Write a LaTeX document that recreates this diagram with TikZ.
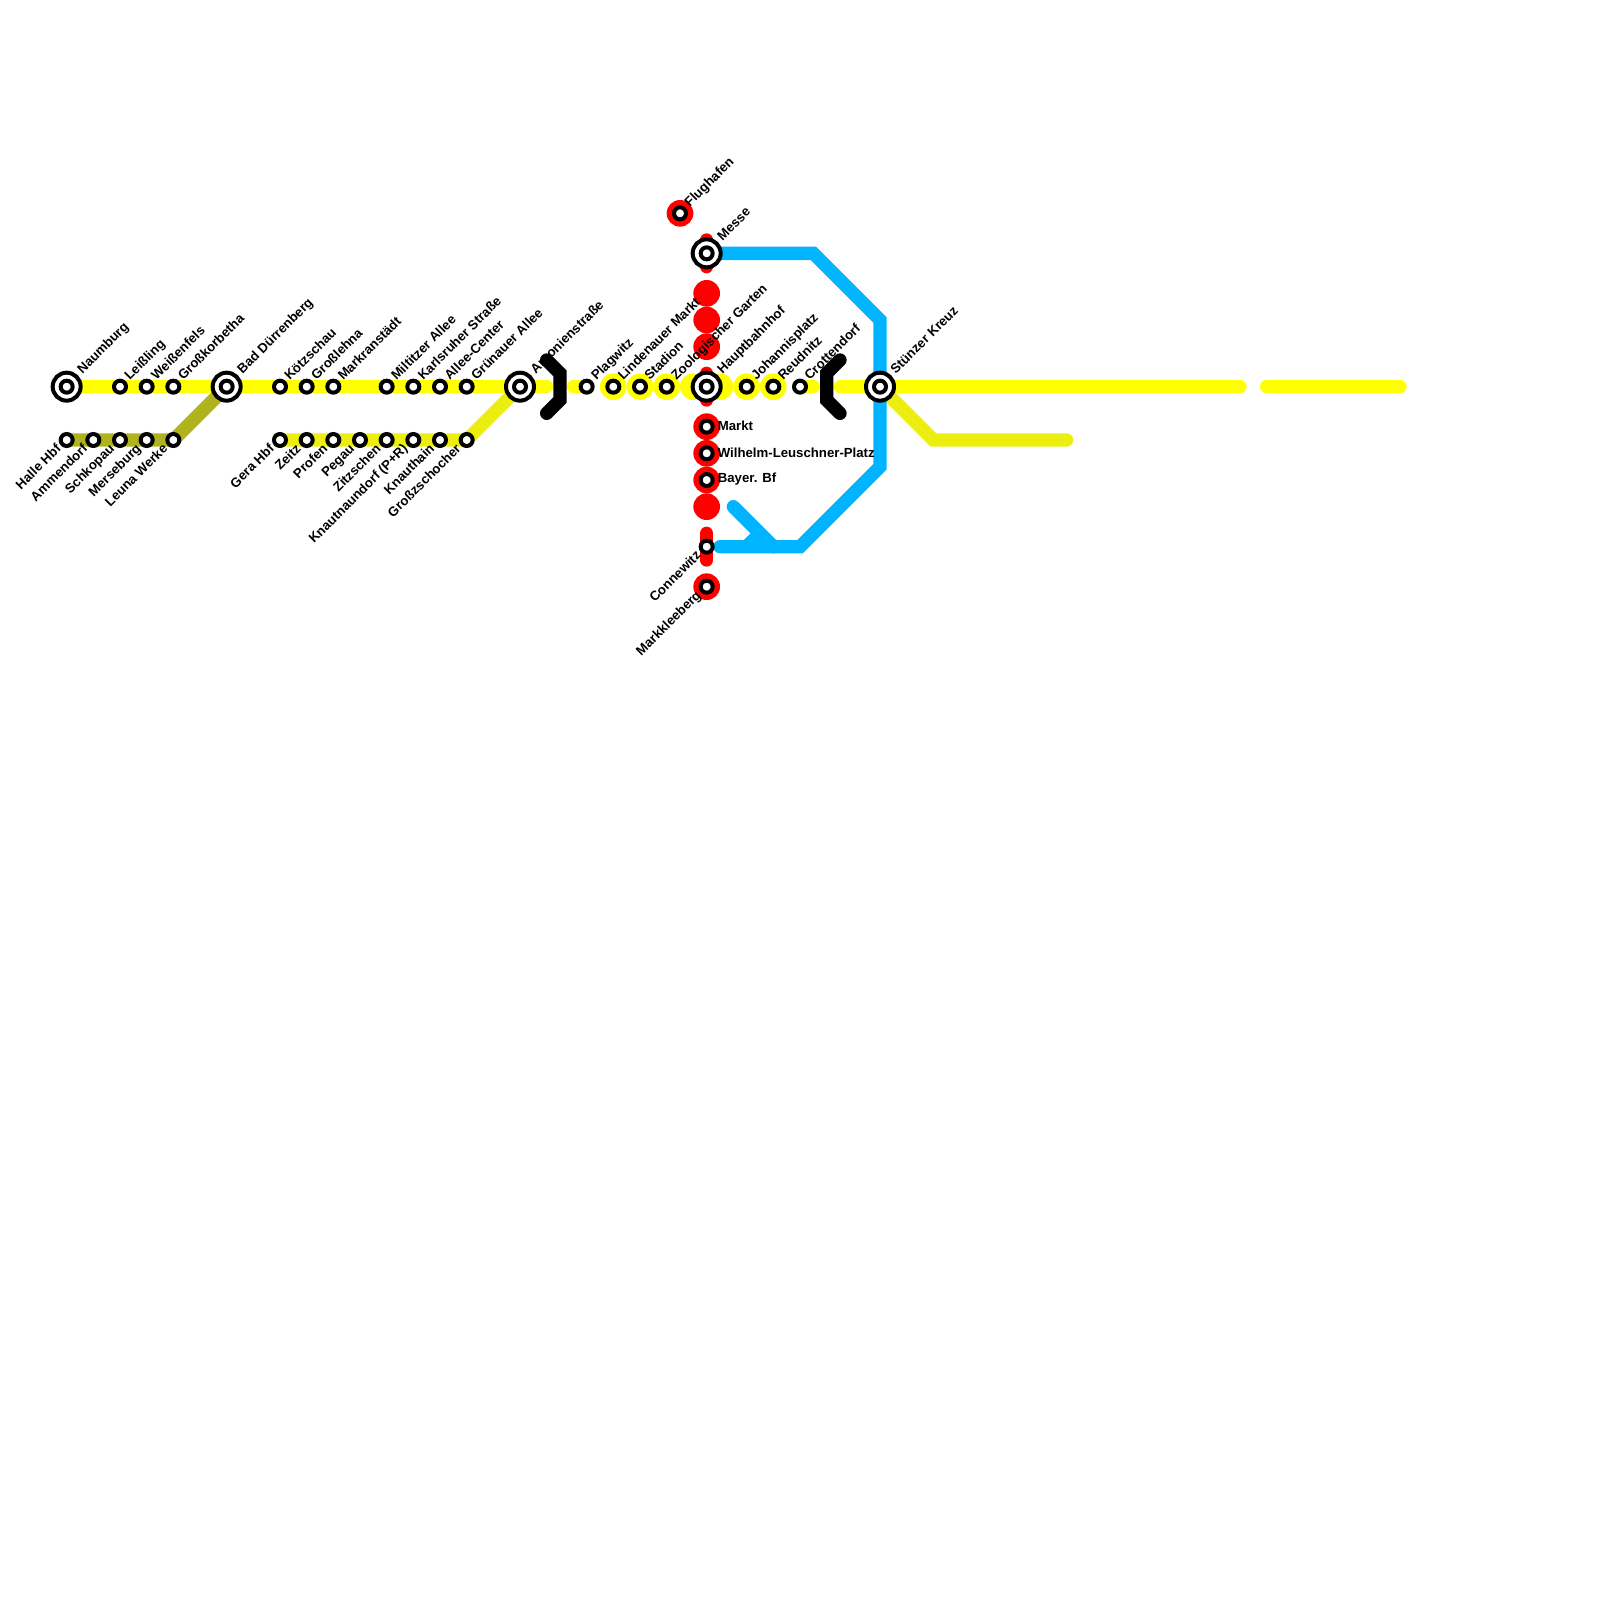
\documentclass[tikz,border=0pt]{standalone}
\usepackage{fontspec}
\setmainfont{Liberation Sans}
\usetikzlibrary{backgrounds}
\definecolor{lnyel}{HTML}{FFFF00}
\definecolor{lnlem}{HTML}{EBEE0E}
\definecolor{lnoli}{HTML}{AFB41E}
\definecolor{lnblu}{HTML}{00B4FF}
\definecolor{lnred}{HTML}{FF0000}

\begin{document}
\begin{tikzpicture}[
  x=13.3333pt, y=-13.3333pt, font=\fontsize{13.2}{14}\selectfont\bfseries,
  ln/.style   ={line width=13.3333pt,line cap=round},
  stn/.style  ={draw=black,fill=white,circle,inner sep=0,minimum size=12pt,line width=4pt},
  hub/.style  ={draw=black,fill=white,circle,inner sep=0,minimum size=28pt,line width=4pt},
  ydot/.style ={circle,fill=lnyel,inner sep=0,minimum size=26.6667pt},
  rdot/.style ={circle,fill=lnred,inner sep=0,minimum size=26.6667pt},
  lup/.style  ={xshift=9.8pt,yshift=5.7pt,rotate=45,anchor=base west,inner sep=0},
  lupb/.style ={xshift=15.8pt,yshift=12pt,rotate=45,anchor=base west,inner sep=0},
  ldn/.style  ={xshift=-4.9pt,yshift=-9.5pt,rotate=45,anchor=base east,inner sep=0},
  lrt/.style  ={anchor=west,inner sep=0,xshift=11pt,yshift=1pt},
]
\useasboundingbox (0,0) rectangle (120,120);

% ----------------------------------------------------------- interchanges
\foreach \k/\x/\y in {naum/5/29, durr/17/29, anto/39/29, hbf/53/29, mess/53/19, stun/66/29} {
  \node[hub] (\k) at (\x,\y) {};
  \node[stn] (\k c) at (\x,\y) {};
}

% ----------------------------------------------------------- plain stations
\foreach \k/\x/\y in {leis/9/29, weis/11/29, gkor/13/29, kotz/21/29, gleh/23/29, mark/25/29,
    milt/29/29, karl/31/29, alle/33/29, grun/35/29, plag/44/29, lind/46/29, stad/48/29,
    zool/50/29, joha/56/29, reud/58/29, crot/60/29, halle/5/33, amme/7/33, scho/9/33,
    mers/11/33, leun/13/33, gera/21/33, zeit/23/33, prof/25/33, pega/27/33, zits/29/33,
    knpr/31/33, knau/33/33, gzsc/35/33, flug/51/16, mrkt/53/32, wlp/53/34, baye/53/36,
    conn/53/41, mkle/53/44} {
  \node[stn] (\k) at (\x,\y) {};
}

% free ends and corners
\foreach \k/\x/\y in {ye1/41/29, ye2/43/29, ye3/61/29, ye4/63/29, ye5/93/29, ye6/95/29, ye7/105/29,
    le1/70/33, le2/80/33, bl1/61/19, bl2/66/24, bl3/66/35, bl4/60/41, bl5/54/41, bl6/55/38,
    bl7/58/41, bl8/56/41, bl9/57/40, rd1/53/18, rd2/53/20, rd3/53/28, rd4/53/30, rd5/53/40,
    rd6/53/42, bk1/41/27, bk2/42/28, bk3/42/30, bk4/41/31, bk5/63/27, bk6/62/28, bk7/62/30,
    bk8/63/31} {
  \coordinate (\k) at (\x,\y);
}

% ----------------------------------------------------------- lines, under the stations
\begin{scope}[on background layer]
  \draw[ln,lnyel] (naum.center) -- (ye1);
  \draw[ln,lnyel] (ye2) -- (plag.center);
  \draw[ln,lnyel] (crot.center) -- (ye3);
  \draw[ln,lnyel] (ye4) -- (ye5);
  \draw[ln,lnyel] (ye6) -- (ye7);
  \draw[ln,lnoli] (halle.center) -- (leun.center) -- (durr.center);
  \draw[ln,lnlem] (gera.center) -- (gzsc.center) -- (anto.center);
  \draw[ln,lnlem] (stun.center) -- (le1) -- (le2);
  \draw[ln,lnblu] (mess.center) -- (bl1) -- (bl2) -- (bl3) -- (bl4) -- (bl5);
  \draw[ln,lnblu] (bl6) -- (bl7);
  \draw[line width=13.3333pt,lnblu] (bl8) -- (bl9);
  \foreach \a/\b in {rd1/rd2, rd3/rd4, rd5/rd6} { \draw[ln,lnred] (\a) -- (\b); }
  \foreach \k/\x in {yd1/46, yd2/48, yd3/50, yd4/52, yd5/54, yd6/56, yd7/58} {
    \node[ydot] (\k) at (\x,29) {};
  }
  \node[rdot] (rda) at (51,16) {};
  \foreach \k/\y in {rdb/22, rdc/24, rdd/26, rde/32, rdf/34, rdg/36, rdh/38, rdi/44} {
    \node[rdot] (\k) at (53,\y) {};
  }
\end{scope}

% ----------------------------------------------------------- labels
\foreach \k/\t in {naum/Naumburg, durr/Bad Dürrenberg, anto/Antonienstraße, hbf/Hauptbahnhof,
    mess/Messe, stun/Stünzer Kreuz} {
  \node[lupb] (\k l) at (\k) {\t};
}
\foreach \k/\t in {leis/Leißling, weis/Weißenfels, gkor/Großkorbetha, kotz/Kötzschau,
    gleh/Großlehna, mark/Markranstädt, milt/Miltitzer Allee, karl/Karlsruher Straße,
    alle/Allee-Center, grun/Grünauer Allee, plag/Plagwitz, lind/Lindenauer Markt,
    stad/Stadion, zool/Zoologischer Garten, joha/Johannisplatz, reud/Reudnitz,
    crot/Crottendorf, flug/Flughafen} {
  \node[lup] (\k l) at (\k) {\t};
}
\foreach \k/\t in {halle/Halle Hbf, amme/Ammendorf, scho/Schkopau, mers/Merseburg,
    leun/Leuna Werke, gera/Gera Hbf, zeit/Zeitz, prof/Profen, pega/Pegau, zits/Zitzschen,
    knpr/Knautnaundorf (P+R), knau/Knauthain, gzsc/Großzschocher, conn/Connewitz,
    mkle/Markkleeberg} {
  \node[ldn] (\k l) at (\k) {\t};
}
\foreach \k/\t in {mrkt/Markt, wlp/Wilhelm-Leuschner-Platz, baye/Bayer. Bf} {
  \node[lrt] (\k l) at (\k) {\t};
}

% ----------------------------------------------------------- the two gaps
\draw[line width=13.3333pt,line cap=round,black] (bk1) -- (bk2) -- (bk3) -- (bk4);
\draw[line width=13.3333pt,line cap=round,black] (bk5) -- (bk6) -- (bk7) -- (bk8);

\end{tikzpicture}
\end{document}
